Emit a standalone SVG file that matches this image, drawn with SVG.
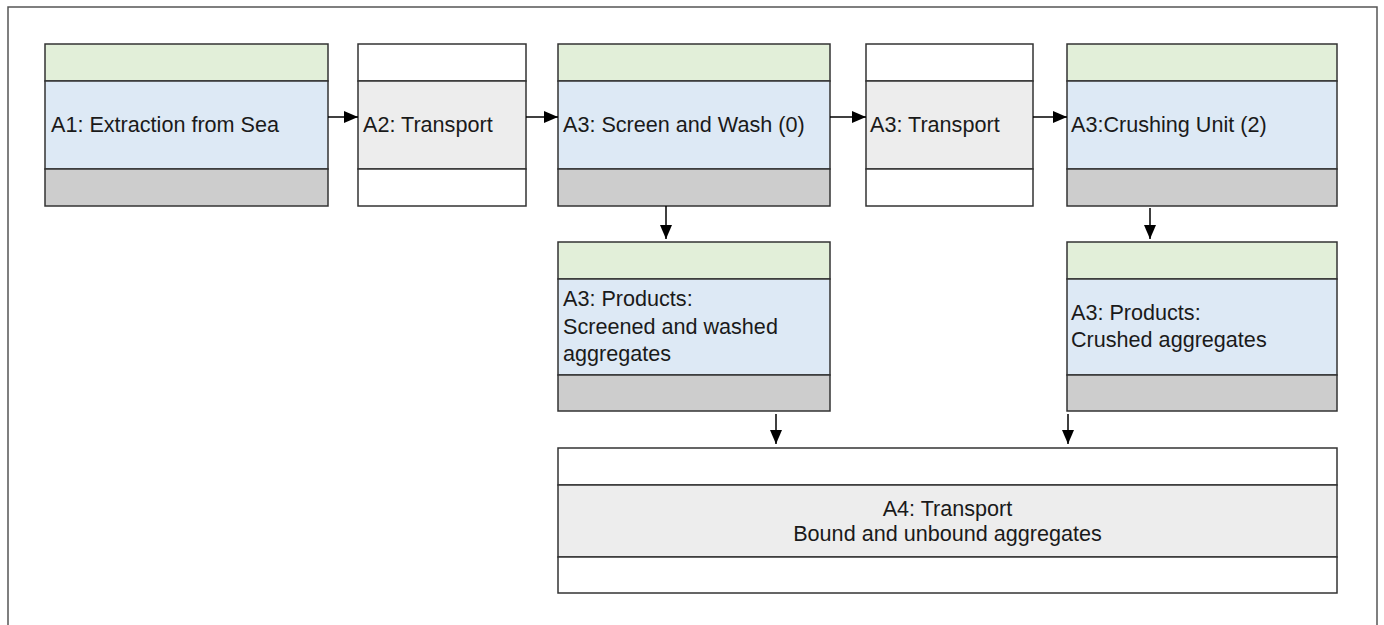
<svg xmlns="http://www.w3.org/2000/svg" width="1384" height="625" viewBox="0 0 1384 625">
<defs>
<style>
.g{fill:#e2efd9;stroke:#333;stroke-width:1.5}
.b{fill:#dde9f5;stroke:#333;stroke-width:1.5}
.d{fill:#cdcdcd;stroke:#333;stroke-width:1.5}
.w{fill:#ffffff;stroke:#333;stroke-width:1.5}
.l{fill:#ededed;stroke:#333;stroke-width:1.5}
text{font-family:"Liberation Sans",Arial,sans-serif;font-size:21.6px;fill:#1a1a1a}
.c{stroke:#000;stroke-width:1.5;fill:none;marker-end:url(#ah)}
</style>
<marker id="ah" viewBox="0 0 14 12" refX="14" refY="6" markerWidth="14" markerHeight="12" markerUnits="userSpaceOnUse" orient="auto">
<path d="M0,0 L14,6 L0,12 Z" fill="#000"/>
</marker>
</defs>
<rect width="1384" height="625" fill="#fff"/>
<path d="M8,626 L8,7 L1377,7 L1377,626" fill="none" stroke="#555" stroke-width="1.5"/>

<g id="a1">
<rect class="g" x="45" y="44" width="283" height="37"/>
<rect class="b" x="45" y="81" width="283" height="88"/>
<rect class="d" x="45" y="169" width="283" height="37"/>
<text x="51" y="132">A1: Extraction from Sea</text>
</g>
<g id="a2">
<rect class="w" x="358" y="44" width="168" height="37"/>
<rect class="l" x="358" y="81" width="168" height="88"/>
<rect class="w" x="358" y="169" width="168" height="37"/>
<text x="363" y="132">A2: Transport</text>
</g>
<g id="a3screen">
<rect class="g" x="558" y="44" width="272" height="37"/>
<rect class="b" x="558" y="81" width="272" height="88"/>
<rect class="d" x="558" y="169" width="272" height="37"/>
<text x="563" y="132">A3: Screen and Wash (0)</text>
</g>
<g id="a3transport">
<rect class="w" x="866" y="44" width="167" height="37"/>
<rect class="l" x="866" y="81" width="167" height="88"/>
<rect class="w" x="866" y="169" width="167" height="37"/>
<text x="870" y="132">A3: Transport</text>
</g>
<g id="a3crushing">
<rect class="g" x="1067" y="44" width="270" height="37"/>
<rect class="b" x="1067" y="81" width="270" height="88"/>
<rect class="d" x="1067" y="169" width="270" height="37"/>
<text x="1071" y="132">A3:Crushing Unit (2)</text>
</g>
<g id="a3products1">
<rect class="g" x="558" y="242" width="272" height="37"/>
<rect class="b" x="558" y="279" width="272" height="96"/>
<rect class="d" x="558" y="375" width="272" height="36"/>
<text x="563" y="306">A3: Products:</text>
<text x="563" y="334">Screened and washed</text>
<text x="563" y="361">aggregates</text>
</g>
<g id="a3products2">
<rect class="g" x="1067" y="242" width="270" height="37"/>
<rect class="b" x="1067" y="279" width="270" height="96"/>
<rect class="d" x="1067" y="375" width="270" height="36"/>
<text x="1071" y="320">A3: Products:</text>
<text x="1071" y="347">Crushed aggregates</text>
</g>
<g id="a4">
<rect class="w" x="558" y="448" width="779" height="37"/>
<rect class="l" x="558" y="485" width="779" height="72"/>
<rect class="w" x="558" y="557" width="779" height="36"/>
<text x="947.5" y="515.5" text-anchor="middle">A4: Transport</text>
<text x="947.5" y="541" text-anchor="middle">Bound and unbound aggregates</text>
</g>

<g id="connectors">
<line class="c" x1="328" y1="117" x2="358" y2="117"/>
<line class="c" x1="526" y1="117" x2="558" y2="117"/>
<line class="c" x1="830" y1="117" x2="866" y2="117"/>
<line class="c" x1="1033" y1="117" x2="1067" y2="117"/>
<line class="c" x1="666" y1="206" x2="666" y2="239"/>
<line class="c" x1="1150" y1="208" x2="1150" y2="239"/>
<line class="c" x1="776" y1="414" x2="776" y2="444"/>
<line class="c" x1="1068" y1="414" x2="1068" y2="444"/>
</g>
</svg>
